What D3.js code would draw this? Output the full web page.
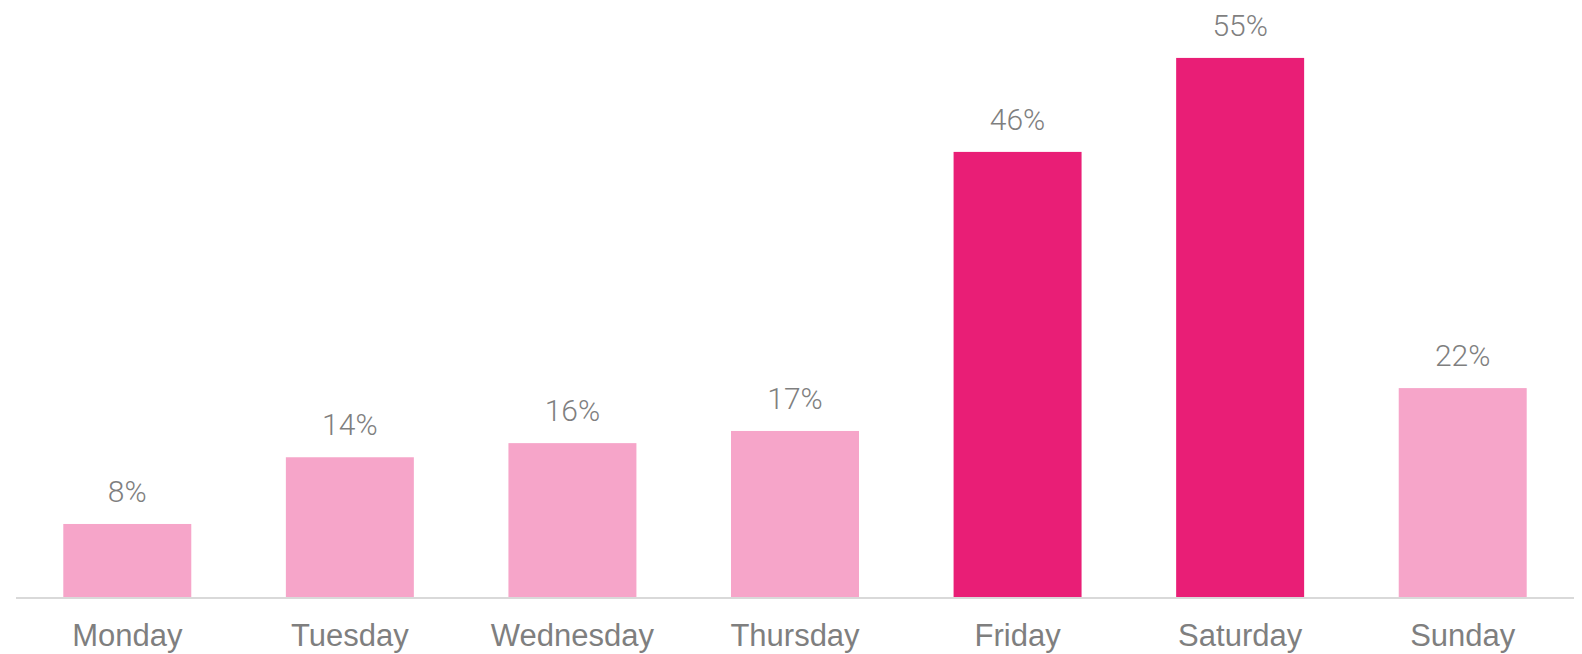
<!DOCTYPE html>
<html>
<head>
<meta charset="utf-8">
<script src="https://cdn.jsdelivr.net/npm/d3@7"></script>
<style>
  html, body { margin: 0; padding: 0; background: #ffffff; }
  svg { display: block; }
</style>
</head>
<body>
<svg id="chart" width="1582" height="654"></svg>
<script>
// ---- data ----
const categories = ["Monday", "Tuesday", "Wednesday", "Thursday", "Friday", "Saturday", "Sunday"];
const values = [7.6, 14.45, 15.9, 17.15, 45.8, 55.45, 21.55];
const highlighted = ["Friday", "Saturday"];

// ---- layout ----
const W = 1582, H = 654;
const baseY = 598;
const x = d3.scaleBand()
  .domain(categories)
  .range([16, 1574])
  .paddingInner(0.425)
  .paddingOuter(0.2125);
const y = d3.scaleLinear().domain([0, 60]).range([baseY, baseY - 9.74 * 60]);

const colorLight = "#f6a5c9";
const colorDark = "#e91e76";
const textGray = "#7f7f7f";

const svg = d3.select("#chart");
const data = categories.map((c, i) => ({ c, v: values[i] }));

svg.selectAll("rect.bar")
  .data(data)
  .enter().append("rect")
  .attr("class", "bar")
  .attr("x", d => x(d.c))
  .attr("width", x.bandwidth())
  .attr("y", d => y(d.v))
  .attr("height", d => y(0) - y(d.v))
  .attr("fill", d => highlighted.includes(d.c) ? colorDark : colorLight);

// baseline axis
const axis = d3.axisBottom(x).tickSize(0).tickPadding(0);
const gAxis = svg.append("g").attr("transform", `translate(0,${baseY})`).call(axis);
gAxis.select(".domain").attr("stroke", "#d9d9d9").attr("stroke-width", 2)
  .attr("d", `M16,0H1574`);
gAxis.selectAll(".tick text")
  .attr("y", 48)
  .attr("dy", 0)
  .attr("fill", textGray)
  .style("font-family", "'Liberation Sans', Arial, sans-serif")
  .style("font-size", "31px");

// value labels
svg.selectAll("text.val")
  .data(data)
  .enter().append("text")
  .attr("class", "val")
  .attr("x", d => x(d.c) + x.bandwidth() / 2)
  .attr("y", d => y(d.v) - 22)
  .attr("text-anchor", "middle")
  .attr("fill", textGray)
  .style("font-family", "Roboto, 'Liberation Sans', sans-serif")
  .style("font-weight", 300)
  .style("font-size", "30px")
  .text(d => Math.round(d.v) + "%");
</script>
</body>
</html>
